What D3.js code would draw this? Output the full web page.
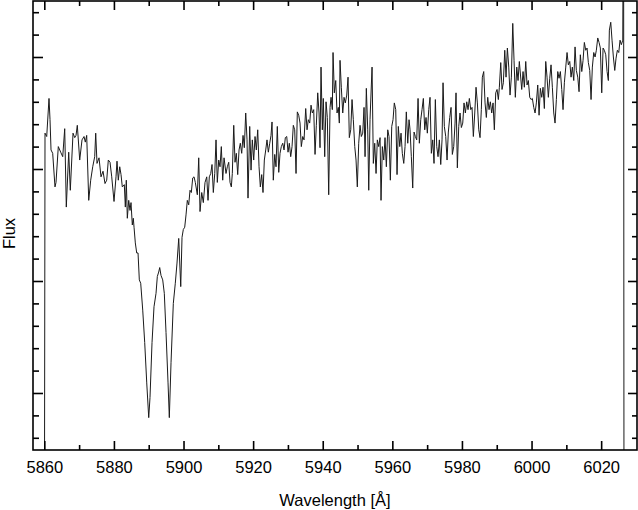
<!DOCTYPE html>
<html>
<head>
<meta charset="utf-8">
<script src="https://cdn.jsdelivr.net/npm/d3@7"></script>
<style>
  html, body { margin: 0; padding: 0; background: #fff; }
  svg { display: block; font-family: "Liberation Sans", Arial, sans-serif; }
  .frame { fill: none; stroke: #000; stroke-width: 1.6; }
  .axis path { display: none; }
  .axis line { stroke: #000; stroke-width: 1.6; }
  .axis text { font-size: 16.5px; fill: #000; }
  .label { font-size: 16.5px; fill: #000; }
  .spectrum { fill: none; stroke: #1a1a1a; stroke-width: 1; stroke-linejoin: round; }
</style>
</head>
<body>
<div id="chart"></div>
<script>
// observed spectrum, wavelength in Angstrom
const wavelength = [
  5860.00, 5860.20, 5860.69, 5861.35, 5861.64, 5861.93, 5862.41, 5863.07, 5863.36, 5864.02,
  5864.71, 5865.29, 5865.86, 5866.32, 5867.01, 5867.47, 5868.25, 5868.74, 5869.11, 5869.48,
  5870.17, 5870.83, 5871.41, 5871.78, 5872.18, 5872.76, 5873.33, 5873.91, 5874.48, 5874.77,
  5875.14, 5875.72, 5876.29, 5876.87, 5877.44, 5877.93, 5878.39, 5878.88, 5879.37, 5880.03,
  5880.60, 5880.89, 5881.26, 5881.67, 5882.04, 5882.41, 5882.99, 5883.28, 5883.56, 5883.85,
  5884.25, 5884.63, 5884.91, 5885.29, 5885.57, 5885.78, 5886.15, 5886.55, 5886.93, 5887.30,
  5887.70, 5888.28, 5888.85, 5889.43, 5890.00, 5890.37, 5890.95, 5891.52, 5892.10, 5892.47,
  5892.87, 5893.16, 5893.53, 5894.02, 5894.48, 5894.97, 5895.55, 5895.92, 5896.41, 5897.07,
  5897.64, 5898.13, 5898.62, 5899.20, 5899.57, 5899.94, 5900.34, 5900.72, 5901.09, 5901.49,
  5901.87, 5902.24, 5902.64, 5903.02, 5903.39, 5903.97, 5904.37, 5904.74, 5905.23, 5905.69,
  5906.18, 5906.67, 5907.04, 5907.41, 5907.82, 5908.19, 5908.56, 5908.97, 5909.34, 5909.71,
  5910.11, 5910.49, 5910.86, 5911.26, 5911.64, 5912.21, 5912.59, 5912.99, 5913.36, 5913.74,
  5914.02, 5914.43, 5914.80, 5915.17, 5915.57, 5915.95, 5916.32, 5916.72, 5917.10, 5917.47,
  5917.87, 5918.25, 5918.53, 5919.02, 5919.40, 5919.77, 5920.17, 5920.55, 5920.92, 5921.32,
  5921.70, 5922.07, 5922.47, 5922.84, 5923.22, 5923.62, 5923.99, 5924.37, 5924.77, 5925.14,
  5925.43, 5925.80, 5926.21, 5926.58, 5926.95, 5927.36, 5927.73, 5928.10, 5928.51, 5928.88,
  5929.25, 5929.66, 5930.03, 5930.40, 5930.80, 5931.18, 5931.55, 5931.95, 5932.33, 5932.70,
  5933.10, 5933.48, 5933.85, 5934.25, 5934.63, 5935.11, 5935.49, 5935.86, 5936.26, 5936.64,
  5937.01, 5937.41, 5937.79, 5938.16, 5938.56, 5938.94, 5939.22, 5939.51, 5939.89, 5940.17,
  5940.57, 5940.95, 5941.32, 5941.72, 5942.10, 5942.39, 5942.76, 5942.96, 5943.33, 5943.74,
  5944.11, 5944.48, 5944.77, 5944.97, 5945.34, 5945.75, 5946.12, 5946.49, 5946.90, 5947.27,
  5947.64, 5948.05, 5948.42, 5948.79, 5949.20, 5949.57, 5949.94, 5950.34, 5950.72, 5951.09,
  5951.49, 5951.87, 5952.16, 5952.53, 5952.93, 5953.22, 5953.59, 5953.97, 5954.17, 5954.54,
  5954.94, 5955.32, 5955.69, 5956.09, 5956.47, 5956.75, 5957.13, 5957.53, 5957.90, 5958.28,
  5958.68, 5959.05, 5959.43, 5959.83, 5960.20, 5960.57, 5960.98, 5961.35, 5961.72, 5962.13,
  5962.50, 5962.87, 5963.28, 5963.65, 5964.02, 5964.43, 5964.80, 5965.09, 5965.46, 5965.86,
  5966.24, 5966.61, 5967.01, 5967.39, 5967.76, 5968.16, 5968.53, 5968.91, 5969.31, 5969.68,
  5970.06, 5970.46, 5970.83, 5971.21, 5971.61, 5971.98, 5972.36, 5972.76, 5973.13, 5973.51,
  5973.91, 5974.28, 5974.57, 5974.94, 5975.34, 5975.72, 5976.09, 5976.49, 5976.87, 5977.24,
  5977.64, 5978.02, 5978.30, 5978.68, 5979.08, 5979.45, 5979.83, 5980.23, 5980.60, 5980.98,
  5981.38, 5981.75, 5982.13, 5982.53, 5982.90, 5983.28, 5983.68, 5984.05, 5984.43, 5984.83,
  5985.20, 5985.57, 5985.86, 5986.26, 5986.64, 5987.01, 5987.41, 5987.79, 5988.16, 5988.56,
  5988.94, 5989.31, 5989.71, 5990.09, 5990.46, 5990.75, 5991.15, 5991.52, 5991.90, 5992.30,
  5992.67, 5993.05, 5993.45, 5993.82, 5994.20, 5994.60, 5994.97, 5995.34, 5995.75, 5996.12,
  5996.49, 5997.18, 5997.56, 5997.93, 5998.33, 5998.71, 5999.08, 5999.48, 5999.86, 6000.23,
  6000.63, 6001.01, 6001.38, 6001.78, 6002.16, 6002.53, 6002.93, 6003.30, 6003.68, 6004.08,
  6004.45, 6004.83, 6005.23, 6005.60, 6005.98, 6006.38, 6006.75, 6007.13, 6007.53, 6007.90,
  6008.28, 6008.68, 6009.05, 6009.43, 6009.83, 6010.20, 6010.57, 6010.98, 6011.35, 6011.72,
  6012.13, 6012.50, 6012.87, 6013.28, 6013.65, 6014.02, 6014.43, 6014.80, 6015.17, 6015.57,
  6015.95, 6016.32, 6016.72, 6017.10, 6017.47, 6017.87, 6018.25, 6018.62, 6019.02, 6019.40,
  6019.77, 6020.17, 6020.55, 6020.92, 6021.32, 6021.70, 6022.07, 6022.36, 6022.76, 6023.13,
  6023.51, 6023.91, 6024.28, 6024.66, 6025.06, 6025.43, 6025.80, 6026.21, 6026.44, 6026.58,
];

// flux, arbitrary units (same order as wavelength)
const flux = [
  -1.00, 3.32, 3.29, 3.63, 3.44, 3.17, 3.14, 2.84, 2.88, 3.20,
  3.15, 3.11, 3.36, 2.66, 3.15, 2.81, 3.32, 3.28, 3.30, 3.39,
  3.08, 3.26, 3.29, 3.24, 3.30, 2.72, 2.90, 3.02, 3.11, 3.32,
  3.05, 3.10, 2.93, 2.98, 2.87, 2.90, 3.08, 3.06, 2.93, 2.71,
  2.93, 3.07, 2.90, 3.02, 2.95, 2.84, 2.86, 2.66, 2.90, 2.56,
  2.72, 2.63, 2.70, 2.50, 2.56, 2.48, 2.34, 2.25, 2.25, 2.01,
  1.98, 1.74, 1.45, 1.09, 0.78, 0.96, 1.45, 1.77, 1.89, 2.04,
  2.08, 2.12, 2.05, 2.01, 1.89, 1.54, 1.09, 0.78, 1.27, 1.80,
  1.98, 2.16, 2.38, 1.95, 2.39, 2.46, 2.48, 2.59, 2.72, 2.68,
  2.81, 2.79, 2.92, 2.93, 2.88, 2.77, 3.10, 2.62, 2.79, 2.70,
  2.88, 2.93, 2.72, 2.93, 2.96, 3.04, 2.79, 2.96, 3.26, 2.88,
  3.08, 3.02, 3.20, 2.90, 3.10, 2.96, 3.02, 3.06, 2.88, 2.84,
  2.96, 3.39, 3.06, 3.14, 2.95, 3.17, 3.23, 3.14, 3.30, 3.19,
  3.50, 3.26, 2.74, 3.38, 2.99, 3.26, 3.08, 3.29, 3.17, 3.35,
  3.02, 2.84, 2.95, 2.79, 3.08, 3.17, 3.26, 3.15, 3.23, 3.30,
  3.42, 2.90, 3.13, 3.02, 3.38, 2.97, 3.14, 3.20, 3.23, 3.17,
  3.28, 3.29, 3.15, 3.23, 3.11, 3.20, 3.39, 3.35, 2.96, 3.51,
  3.48, 3.41, 3.20, 3.29, 3.26, 3.54, 3.35, 3.44, 3.41, 3.57,
  3.50, 3.53, 3.13, 3.39, 3.68, 3.50, 3.19, 3.91, 3.35, 3.63,
  3.11, 3.60, 3.46, 2.77, 3.55, 3.64, 3.53, 4.04, 3.68, 3.79,
  3.50, 3.55, 3.41, 3.97, 3.73, 3.50, 3.64, 3.59, 3.66, 3.82,
  3.28, 3.35, 3.62, 3.44, 3.20, 3.08, 2.84, 3.23, 3.39, 3.29,
  3.32, 3.55, 3.11, 3.72, 3.35, 2.81, 3.44, 3.75, 3.91, 3.05,
  3.23, 2.96, 3.26, 3.20, 3.28, 2.72, 3.20, 3.08, 3.28, 3.02,
  3.35, 3.29, 2.90, 3.38, 3.44, 3.59, 3.53, 2.95, 3.38, 3.20,
  3.32, 3.14, 3.05, 3.20, 3.51, 3.23, 3.44, 3.35, 3.11, 2.83,
  3.33, 3.29, 3.26, 3.63, 3.23, 3.44, 3.53, 3.63, 3.35, 3.46,
  3.32, 3.53, 3.64, 3.14, 3.26, 3.05, 3.62, 3.20, 3.11, 3.26,
  3.04, 3.26, 3.77, 3.38, 3.29, 3.08, 3.33, 3.46, 3.55, 3.13,
  3.20, 3.41, 3.68, 3.01, 3.38, 3.50, 3.37, 3.41, 3.59, 3.50,
  3.60, 3.53, 3.63, 3.53, 3.55, 3.29, 3.50, 3.73, 3.59, 3.35,
  3.28, 3.53, 3.82, 3.87, 3.59, 3.46, 3.64, 3.53, 3.60, 3.50,
  3.59, 3.35, 3.68, 3.71, 3.62, 3.73, 3.95, 3.71, 3.77, 4.06,
  3.82, 4.08, 3.91, 3.66, 3.82, 4.30, 3.97, 3.64, 3.91, 3.79,
  3.96, 3.71, 3.87, 3.73, 3.96, 3.75, 3.79, 3.64, 3.62, 3.63,
  3.55, 3.50, 3.59, 3.75, 3.48, 3.72, 3.64, 3.73, 3.54, 3.96,
  3.82, 3.64, 3.81, 3.93, 3.73, 3.50, 3.41, 3.62, 3.87, 3.81,
  3.87, 3.71, 3.53, 3.77, 3.91, 4.04, 3.93, 3.96, 3.82, 3.91,
  3.79, 4.09, 3.88, 3.82, 3.69, 4.02, 3.87, 3.97, 4.13, 4.06,
  4.08, 3.95, 3.88, 3.62, 3.91, 4.04, 4.00, 4.06, 4.17, 4.13,
  4.08, 3.68, 4.08, 4.06, 4.02, 3.87, 3.79, 4.24, 4.31, 4.15,
  4.00, 3.88, 3.99, 4.06, 4.04, 4.15, 4.11, 4.15, 6.00, -1.00,
];

// axis ticks
const xMajorTicks = [5860, 5880, 5900, 5920, 5940, 5960, 5980, 6000, 6020];
const xMinorTicks = [5870, 5890, 5910, 5930, 5950, 5970, 5990, 6010];
const yMajorTicks = [1, 2, 3, 4];
const yMinorTicks = [0.6, 0.8, 1.2, 1.4, 1.6, 1.8, 2.2, 2.4, 2.6, 2.8, 3.2, 3.4, 3.6, 3.8, 4.2, 4.4];

const xDomain = [5856.75, 6030.3];
const yDomain = [0.491, 4.5];

function visualize() {
  const canvasWidth = 638;
  const canvasHeight = 510;
  const plot = { left: 33, right: 637, top: 1, bottom: 450 };
  const width = plot.right - plot.left;
  const height = plot.bottom - plot.top;

  const svg = d3.select('#chart')
    .append('svg')
    .attr('width', canvasWidth)
    .attr('height', canvasHeight)
    .attr('viewBox', `0 0 ${canvasWidth} ${canvasHeight}`);

  svg.append('defs')
    .append('clipPath')
      .attr('id', 'plot-clip')
    .append('rect')
      .attr('width', width)
      .attr('height', height);

  const scaleX = d3.scaleLinear().domain(xDomain).range([0, width]);
  const scaleY = d3.scaleLinear().domain(yDomain).range([height, 0]);

  const chart = svg.append('g')
    .attr('transform', `translate(${plot.left}, ${plot.top})`);

  // spectrum line
  const data = wavelength.map((w, i) => [w, flux[i]]);
  const line = d3.line()
    .x(d => scaleX(d[0]))
    .y(d => scaleY(d[1]));

  chart.append('path')
    .datum(data)
    .attr('class', 'spectrum')
    .attr('clip-path', 'url(#plot-clip)')
    .attr('d', line);

  // ticks on all four sides, pointing inward
  const major = 9;
  const minor = 5;

  chart.append('g')
    .attr('class', 'axis')
    .attr('transform', `translate(0, ${height})`)
    .call(d3.axisBottom(scaleX).tickValues(xMajorTicks).tickSize(-major).tickPadding(11.6).tickFormat(d3.format('d')));
  chart.append('g')
    .attr('class', 'axis')
    .attr('transform', `translate(0, ${height})`)
    .call(d3.axisBottom(scaleX).tickValues(xMinorTicks).tickSize(-minor).tickFormat(''));
  chart.append('g')
    .attr('class', 'axis')
    .call(d3.axisTop(scaleX).tickValues(xMajorTicks).tickSize(-major).tickFormat(''));
  chart.append('g')
    .attr('class', 'axis')
    .call(d3.axisTop(scaleX).tickValues(xMinorTicks).tickSize(-minor).tickFormat(''));

  chart.append('g')
    .attr('class', 'axis')
    .call(d3.axisLeft(scaleY).tickValues(yMajorTicks).tickSize(-(major + 1)).tickFormat(''));
  chart.append('g')
    .attr('class', 'axis')
    .call(d3.axisLeft(scaleY).tickValues(yMinorTicks).tickSize(-(minor + 1)).tickFormat(''));
  chart.append('g')
    .attr('class', 'axis')
    .attr('transform', `translate(${width}, 0)`)
    .call(d3.axisRight(scaleY).tickValues(yMajorTicks).tickSize(-major).tickFormat(''));
  chart.append('g')
    .attr('class', 'axis')
    .attr('transform', `translate(${width}, 0)`)
    .call(d3.axisRight(scaleY).tickValues(yMinorTicks).tickSize(-minor).tickFormat(''));

  // frame
  chart.append('rect')
    .attr('class', 'frame')
    .attr('width', width)
    .attr('height', height);

  // axis titles
  svg.append('text')
    .attr('class', 'label')
    .attr('x', plot.left + width / 2)
    .attr('y', 505.5)
    .attr('text-anchor', 'middle')
    .text('Wavelength [Å]');

  svg.append('text')
    .attr('class', 'label')
    .attr('transform', `translate(14.5, ${plot.top + height / 2 + 8}) rotate(-90)`)
    .attr('text-anchor', 'middle')
    .text('Flux');
}

visualize();
</script>
</body>
</html>
